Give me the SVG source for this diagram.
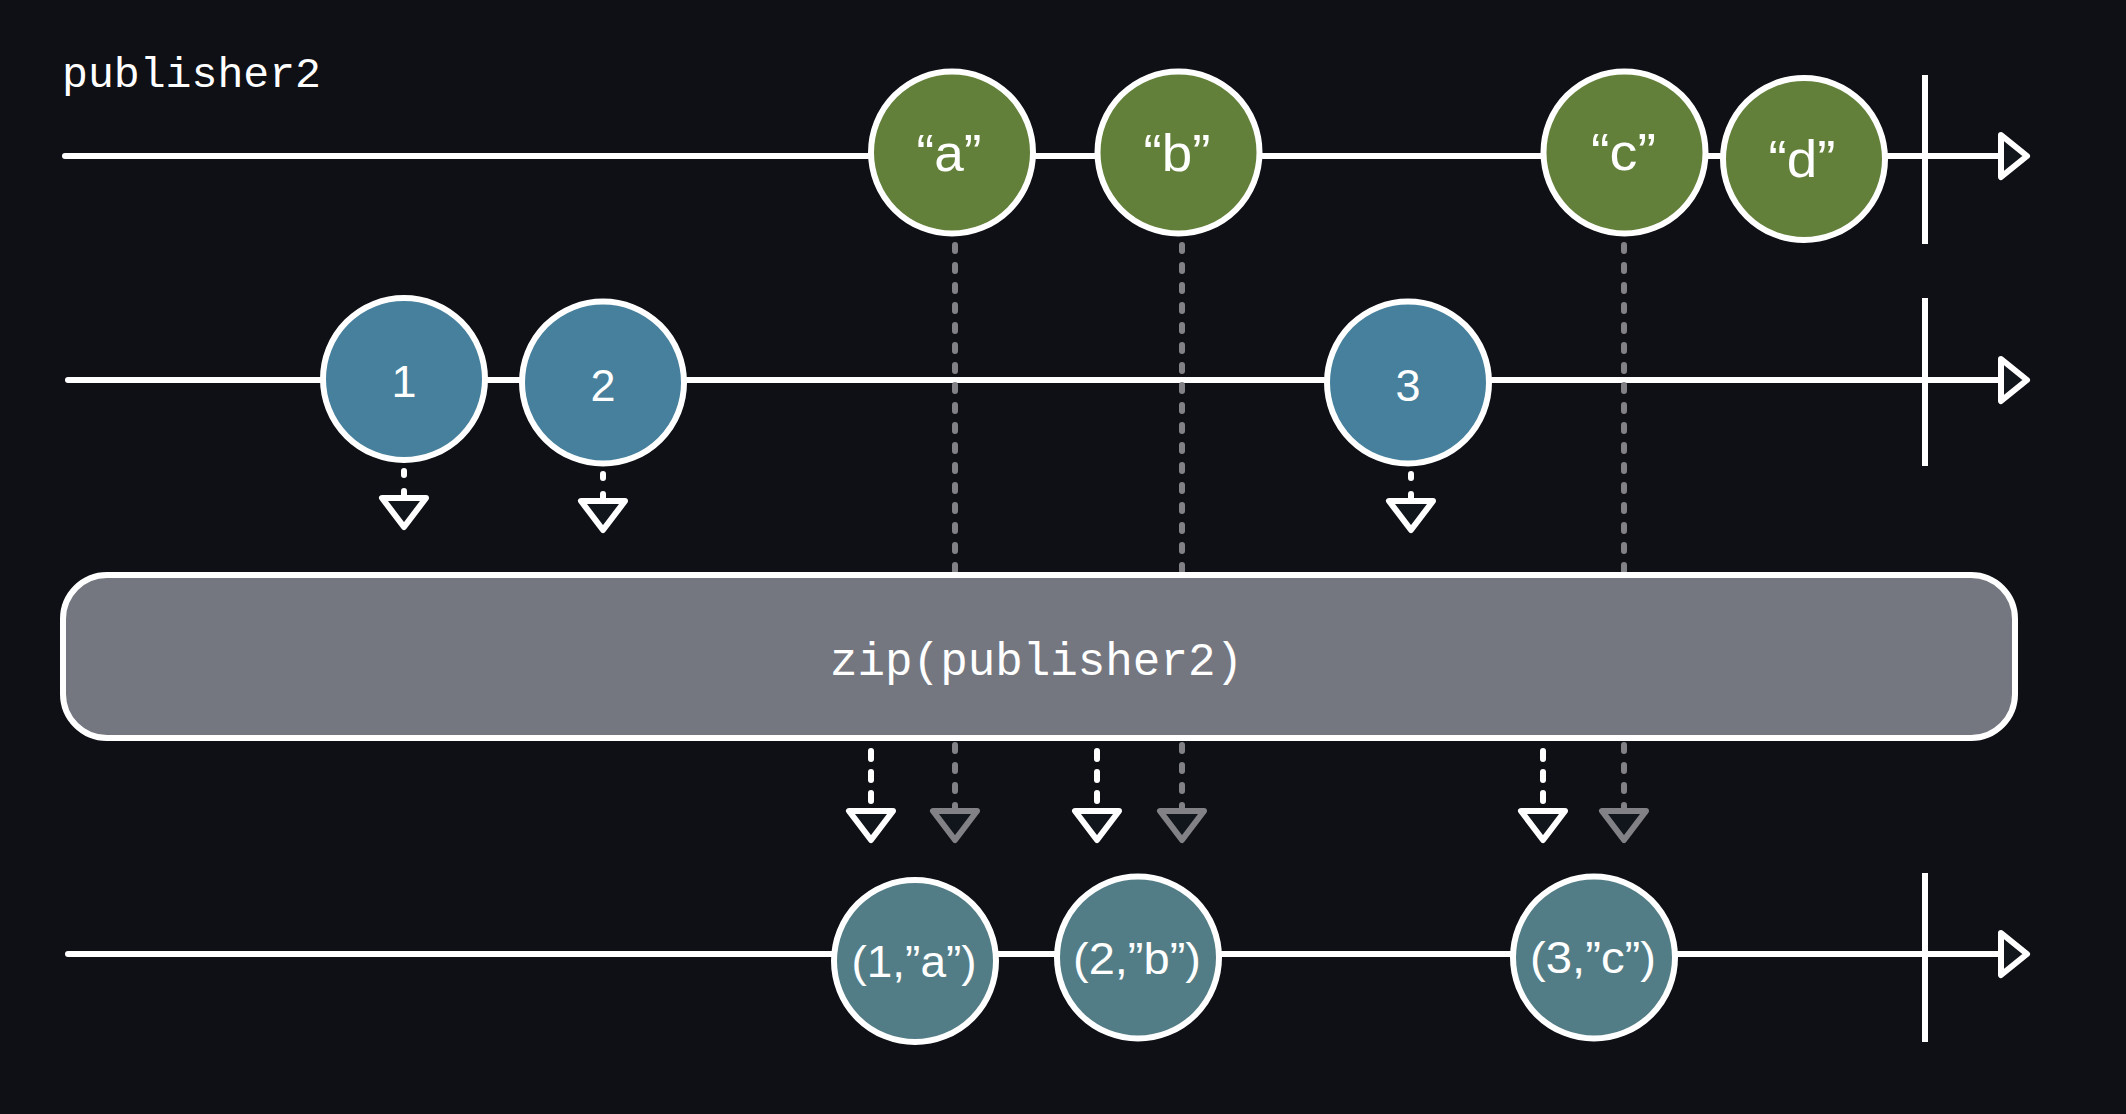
<svg xmlns="http://www.w3.org/2000/svg" width="2126" height="1114" viewBox="0 0 2126 1114">
<style>
.tl{stroke:#ffffff;stroke-width:6;stroke-linecap:round;fill:none}
.tick{stroke:#ffffff;stroke-width:6;fill:none}
.end{stroke:#ffffff;stroke-width:6;stroke-linejoin:round;fill:#11151c}
.grey{stroke:#828286;stroke-width:6;stroke-linecap:round;stroke-dasharray:6 14;fill:none}
.wdash{stroke:#ffffff;stroke-width:6;stroke-linecap:round;fill:none}
.tri{stroke:#ffffff;stroke-width:6;stroke-linejoin:round;fill:#11151c}
.trig{stroke:#828286;stroke-width:6;stroke-linejoin:round;fill:#11151c}
.node{stroke:#ffffff;stroke-width:6}
.g{fill:#63803a}
.b{fill:#46809c}
.t{fill:#537d86}
.lbl{fill:#ffffff;font-family:"Liberation Sans","Noto Sans",Arial,sans-serif;font-size:45px;text-anchor:middle}
.q{font-size:52px}
.mono{fill:#ffffff;font-family:"Liberation Mono","DejaVu Sans Mono",monospace}
</style>
<defs>
<path id="downTri" d="M-22,0 L22,0 L0,29 Z"/>
<path id="rightTri" d="M0,-21 L26,0 L0,21 Z"/>
</defs>
<rect width="2126" height="1114" fill="#0e1015"/>

<g id="timelines">
<line class="tl" x1="65" y1="156" x2="2001" y2="156"/>
<line class="tl" x1="68" y1="380" x2="2001" y2="380"/>
<line class="tl" x1="68" y1="954" x2="2001" y2="954"/>
<line class="tick" x1="1925" y1="75" x2="1925" y2="244"/>
<line class="tick" x1="1925" y1="298" x2="1925" y2="466"/>
<line class="tick" x1="1925" y1="873" x2="1925" y2="1042"/>
<use href="#rightTri" class="end" x="2001" y="156"/>
<use href="#rightTri" class="end" x="2001" y="380"/>
<use href="#rightTri" class="end" x="2001" y="954"/>
</g>

<text id="title" class="mono" x="62" y="87" font-size="43" textLength="259" lengthAdjust="spacingAndGlyphs">publisher2</text>

<g id="connectors">
<line class="grey" x1="955" y1="245" x2="955" y2="808"/>
<line class="grey" x1="1182" y1="245" x2="1182" y2="808"/>
<line class="grey" x1="1624" y1="245" x2="1624" y2="808"/>
</g>

<g id="zip">
<rect x="63" y="575" width="1952" height="163" rx="44" ry="44" fill="#747780" stroke="#ffffff" stroke-width="6"/>
<text class="mono" x="830" y="675" font-size="46" textLength="413" lengthAdjust="spacingAndGlyphs">zip(publisher2)</text>
</g>

<g id="arrows">
<line class="wdash" x1="404" y1="471" x2="404" y2="498" stroke-dasharray="4 16"/>
<line class="wdash" x1="603" y1="474" x2="603" y2="501" stroke-dasharray="4 16"/>
<line class="wdash" x1="1411" y1="474" x2="1411" y2="501" stroke-dasharray="4 16"/>
<use href="#downTri" class="tri" x="404" y="498"/>
<use href="#downTri" class="tri" x="603" y="501"/>
<use href="#downTri" class="tri" x="1411" y="501"/>

<line class="wdash" x1="871" y1="751" x2="871" y2="808" stroke-dasharray="8 13"/>
<line class="wdash" x1="1097" y1="751" x2="1097" y2="808" stroke-dasharray="8 13"/>
<line class="wdash" x1="1543" y1="751" x2="1543" y2="808" stroke-dasharray="8 13"/>
<use href="#downTri" class="tri" x="871" y="811"/>
<use href="#downTri" class="tri" x="1097" y="811"/>
<use href="#downTri" class="tri" x="1543" y="811"/>
<use href="#downTri" class="trig" x="955" y="811"/>
<use href="#downTri" class="trig" x="1182" y="811"/>
<use href="#downTri" class="trig" x="1624" y="811"/>
</g>

<g id="node-a"><circle class="node g" cx="952" cy="152.5" r="81"/><text class="lbl q" x="949" y="171" textLength="65" lengthAdjust="spacingAndGlyphs">“a”</text></g>
<g id="node-b"><circle class="node g" cx="1178.5" cy="152.5" r="81"/><text class="lbl q" x="1177" y="171" textLength="67" lengthAdjust="spacingAndGlyphs">“b”</text></g>
<g id="node-c"><circle class="node g" cx="1624.5" cy="152.5" r="81"/><text class="lbl q" x="1623.5" y="170" textLength="65" lengthAdjust="spacingAndGlyphs">“c”</text></g>
<g id="node-d"><circle class="node g" cx="1804" cy="159" r="81"/><text class="lbl q" x="1802" y="177" textLength="67" lengthAdjust="spacingAndGlyphs">“d”</text></g>

<g id="node-1"><circle class="node b" cx="404" cy="379" r="81"/><text class="lbl" x="404" y="397">1</text></g>
<g id="node-2"><circle class="node b" cx="603" cy="382.5" r="81"/><text class="lbl" x="603" y="400.5">2</text></g>
<g id="node-3"><circle class="node b" cx="1408" cy="382.5" r="81"/><text class="lbl" x="1408" y="400.5">3</text></g>

<g id="node-1a"><circle class="node t" cx="915" cy="961" r="81"/><text class="lbl" x="914" y="977" textLength="125" lengthAdjust="spacingAndGlyphs">(1,”a”)</text></g>
<g id="node-2b"><circle class="node t" cx="1138" cy="957.5" r="81"/><text class="lbl" x="1137" y="974" textLength="128" lengthAdjust="spacingAndGlyphs">(2,”b”)</text></g>
<g id="node-3c"><circle class="node t" cx="1594" cy="957.5" r="81"/><text class="lbl" x="1593" y="973" textLength="126" lengthAdjust="spacingAndGlyphs">(3,”c”)</text></g>
</svg>
